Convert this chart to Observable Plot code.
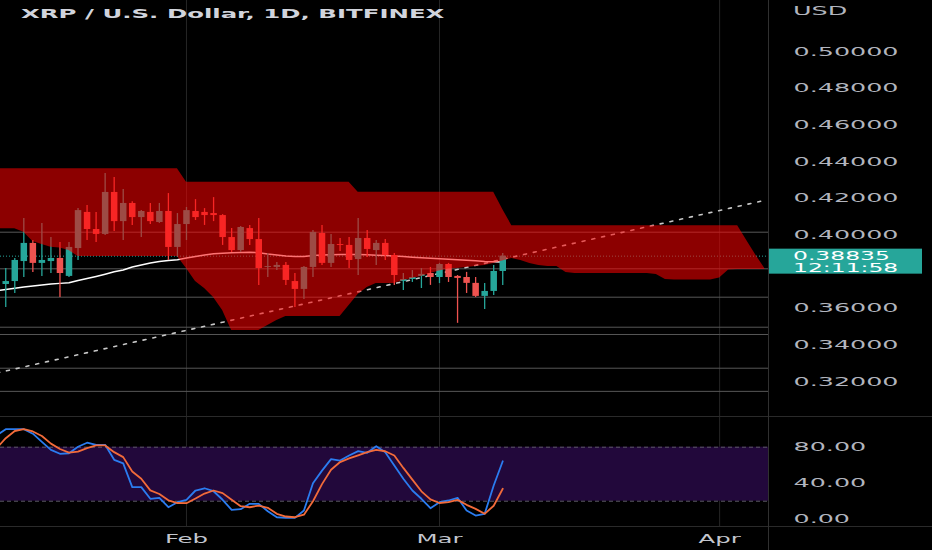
<!DOCTYPE html>
<html><head><meta charset="utf-8">
<script src="https://cdn.jsdelivr.net/npm/d3@7"></script>
<script src="https://cdn.jsdelivr.net/npm/@observablehq/plot@0.6"></script>
<style>
html,body{margin:0;padding:0;background:#000;}
#wrap{position:relative;width:932px;height:550px;overflow:hidden;background:#000;}
#wrap svg{display:block;background:#000;}
.hline{position:absolute;left:0;width:932px;height:1px;background:#2a2a2a;}
.vline{position:absolute;top:0;left:768px;width:1px;height:550px;background:#303030;}
</style></head><body>
<div id="wrap"><div id="top"></div><div id="bottom"></div>
<div class="hline" style="top:416px"></div><div class="hline" style="top:526px"></div><div class="vline"></div></div>
<script>
// ---------- data ----------
const title = "XRP / U.S. Dollar, 1D, BITFINEX";
const currency = "USD";
const countdown = "12:11:58";
const candleStart = "2023-01-12", candleEnd = "2023-03-09"; // daily candles Jan 12 .. Mar 8
const open  = [0.3729,0.3745,0.3854,0.3953,0.3844,0.3854,0.3871,0.3773,0.3925,0.4122,0.4029,0.4002,0.4231,0.4072,0.4171,0.4094,0.4122,0.4067,0.4127,0.3931,0.4056,0.4127,0.4122,0.4116,0.4105,0.3985,0.3914,0.4034,0.3974,0.3822,0.3822,0.3833,0.3745,0.3702,0.3822,0.4007,0.3844,0.3947,0.3942,0.3865,0.3980,0.3914,0.3953,0.3887,0.3745,0.3756,0.3773,0.3789,0.3767,0.3838,0.3773,0.3767,0.3735,0.3664,0.3691,0.3800];
const high  = [0.3816,0.3871,0.4089,0.3969,0.4062,0.3985,0.3958,0.3958,0.4143,0.4160,0.4122,0.4334,0.4312,0.4247,0.4180,0.4132,0.4171,0.4171,0.4225,0.4116,0.4149,0.4192,0.4143,0.4203,0.4110,0.4034,0.4045,0.4051,0.4089,0.3898,0.3849,0.3849,0.3789,0.3827,0.4023,0.4051,0.4002,0.3980,0.3985,0.4089,0.4023,0.3969,0.3974,0.3898,0.3789,0.3805,0.3816,0.3822,0.3844,0.3844,0.3778,0.3795,0.3767,0.3735,0.3833,0.3898];
const low   = [0.3604,0.3680,0.3767,0.3795,0.3773,0.3789,0.3658,0.3767,0.3860,0.3969,0.3958,0.3996,0.4018,0.3969,0.4051,0.3985,0.4056,0.4062,0.3860,0.3876,0.3969,0.4078,0.4051,0.4072,0.3942,0.3904,0.3904,0.3942,0.3724,0.3767,0.3805,0.3724,0.3604,0.3647,0.3767,0.3833,0.3822,0.3909,0.3816,0.3778,0.3876,0.3833,0.3860,0.3724,0.3696,0.3740,0.3707,0.3724,0.3734,0.3740,0.3517,0.3680,0.3658,0.3593,0.3669,0.3724];
const close = [0.3745,0.3860,0.3953,0.3844,0.3860,0.3871,0.3789,0.3931,0.4132,0.4029,0.4002,0.4231,0.4072,0.4171,0.4094,0.4127,0.4072,0.4127,0.3931,0.4056,0.4132,0.4094,0.4105,0.4105,0.3985,0.3914,0.4040,0.3974,0.3816,0.3827,0.3833,0.3751,0.3702,0.3822,0.4013,0.3844,0.3947,0.3942,0.3860,0.3980,0.3920,0.3953,0.3887,0.3778,0.3756,0.3767,0.3784,0.3767,0.3838,0.3767,0.3762,0.3735,0.3664,0.3691,0.3800,0.38835];
// indicator series, daily Jan 11 .. Mar 8
const seriesStart = "2023-01-11";
const movingAvg = [0.3694,0.3702,0.3708,0.3715,0.3721,0.3726,0.3732,0.3735,0.3738,0.3751,0.3762,0.3773,0.3785,0.3798,0.3808,0.3824,0.3835,0.3846,0.3854,0.3860,0.3864,0.3873,0.3882,0.3890,0.3896,0.3899,0.3902,0.3903,0.3905,0.3902,0.3895,0.3890,0.3884,0.3882,0.3882,0.3887,0.3890,0.3891,0.3893,0.3893,0.3893,0.3891,0.3889,0.3887,0.3884,0.3882,0.3878,0.3875,0.3872,0.3869,0.3866,0.3864,0.3861,0.3859,0.3855,0.3853,0.3851];
const stochK = [93,100,100,100,95,86,77,72.7,73.3,80.5,85,82.7,82.7,66,62,35.6,35.6,22.7,23.8,13.3,18.9,21.6,31.9,34.4,31.1,21.6,10.4,11.1,17.1,17.1,8.9,2.2,1.5,1.5,9.7,40,54,66.7,65.2,70.8,75.6,73.8,81.1,74.4,59.7,44.9,31.9,22.7,12.2,18.9,20.8,23.8,9.7,4.1,6,37.4,64.4];
const stochD = [79,90,98,100,97.5,92.5,84,78,74,75,79,82,82,74.5,69,53,45,32,28,21,18,17.8,23,28.5,31.9,29,21.6,14.5,13.3,15.2,12.7,6,3,2.2,5,20,39,55,63.5,67.5,71,74.5,77,75.5,70.8,57,44,31,22,18,19,21.5,16,11.5,6,15,33.8];
// cloud, daily Jan 11 .. Apr 6
const cloudStart = "2023-01-11", cloudEnd = "2023-04-07";
const cloudTop = [0.4360,0.4360,0.4360,0.4360,0.4360,0.4360,0.4360,0.4360,0.4360,0.4360,0.4360,0.4360,0.4360,0.4360,0.4360,0.4360,0.4360,0.4360,0.4360,0.4360,0.4360,
  0.4287,0.4287,0.4287,0.4287,0.4287,0.4287,0.4287,0.4287,0.4287,0.4287,0.4287,0.4287,0.4287,0.4287,0.4287,0.4287,0.4287,0.4287,0.4287,
  0.4232,0.4232,0.4232,0.4232,0.4232,0.4232,0.4232,0.4232,0.4232,0.4232,0.4232,0.4232,0.4232,0.4232,0.4232,0.4232,
  0.4138,
  0.4050,0.4050,0.4050,0.4050,0.4050,0.4050,0.4050,0.4050,0.4050,0.4050,0.4050,0.4050,0.4050,0.4050,0.4050,0.4050,0.4050,0.4050,0.4050,0.4050,0.4050,0.4050,0.4050,0.4050,0.4050,0.4050,
  0.3969,0.3890,0.3816];
const cloudBottom = [0.4033,0.4033,0.4033,0.4014,0.3963,0.3947,0.3932,0.3928,0.3914,0.3882,
  0.3882,0.3882,0.3882,0.3882,0.3882,0.3882,0.3882,0.3882,0.3882,0.3882,0.3882,
  0.3816,0.3745,0.3707,0.3658,0.3587,0.3478,0.3478,0.3478,0.3478,0.3505,0.3532,
  0.3554,0.3554,0.3554,0.3554,0.3554,0.3554,0.3554,
  0.3614,0.3674,0.3712,0.3734,0.3734,0.3734,0.3751,0.3762,0.3772,0.3789,0.3803,0.3813,0.3816,0.3822,0.3827,0.3833,0.3843,0.3857,0.3871,0.3860,0.3843,0.3833,0.3827,0.3827,0.3794,
  0.3789,0.3789,0.3789,0.3789,0.3789,0.3789,0.3789,0.3789,0.3789,
  0.3783,0.3756,
  0.3753,0.3753,0.3753,0.3753,0.3753,
  0.3764,0.3808,
  0.3811,0.3811,0.3811,0.3811];
const levelLines = [0.40142,0.38145,0.36596,0.34959,0.34561,0.32722,0.31459];
const trendDates = ["2023-01-11","2023-04-06"];
const trendValues = [0.3246,0.4188];
const priceTicks = [0.32,0.34,0.36,0.38,0.40,0.42,0.44,0.46,0.48,0.50];
const oscTicks = [0,40,80];
const bandLow = 20, bandHigh = 80;
const monthTicks = ["2023-02-01","2023-03-01","2023-04-01"];

// ---------- tables ----------
const candleDates = d3.utcDay.range(new Date(candleStart), new Date(candleEnd));
const candles = candleDates.map((date,i)=>({date,open:open[i],high:high[i],low:low[i],close:close[i]}));
const seriesDates = d3.utcDay.range(new Date(seriesStart), new Date(candleEnd));
const series = seriesDates.map((date,i)=>({date,ma:movingAvg[i],k:stochK[i],d:stochD[i]}));
const cloudDates = d3.utcDay.range(new Date(cloudStart), new Date(cloudEnd));
const cloud = cloudDates.map((date,i)=>({date,top:cloudTop[i],bottom:cloudBottom[i]}));
const trend = trendDates.map((d,i)=>({date:new Date(d),value:trendValues[i]}));
const months = monthTicks.map(d=>new Date(d));
const lastClose = close[close.length-1];

const DAY = 864e5, FEB1 = Date.UTC(2023,1,1);
const xDomain = [new Date(FEB1 - 20.58*DAY), new Date(FEB1 + 64.41*DAY)];
const band = [{x1:xDomain[0],x2:xDomain[1],y1:bandLow,y2:bandHigh}];
const UP = "#26a69a", DOWN = "#ef5350", AXIS = "#b2b5be";
const col = d => d.close >= d.open ? UP : DOWN;
const FONT = "DejaVu Sans";

// the price tag hides the axis label it sits on
const shownPriceTicks = priceTicks.filter(t => Math.abs(t - lastClose) > 0.009);

const topChart = Plot.plot({
  width:932, height:417, marginTop:0, marginBottom:0, marginLeft:0, marginRight:164,
  style:{background:"#000", fontFamily:FONT, fontSize:"13px", color:AXIS},
  x:{type:"utc", domain:xDomain, axis:null},
  y:{domain:[0.30033,0.52782], axis:null},
  marks:[
    Plot.ruleX(months, {stroke:"#262626"}),
    Plot.ruleY(levelLines, {stroke:"#575757", strokeWidth:1}),
    Plot.ruleY([lastClose], {stroke:UP, strokeWidth:1, strokeDasharray:"1,2"}),
    Plot.line(trend, {x:"date", y:"value", stroke:"#c8c8c8", strokeWidth:1.6, strokeDasharray:"3,7"}),
    Plot.line(series, {x:"date", y:"ma", stroke:"#ffffff", strokeWidth:1.5}),
    Plot.ruleX(candles, {x:"date", y1:"low", y2:"high", stroke:col, strokeWidth:1.3}),
    Plot.ruleX(candles, {x:"date", y1:"open", y2:"close", stroke:col, strokeWidth:6.5}),
    Plot.areaY(cloud, {x:"date", y1:"bottom", y2:"top", fill:"#ff0000", fillOpacity:0.55}),
    Plot.axisY(shownPriceTicks, {anchor:"right", tickSize:0, tickPadding:25, tickFormat:d=>d.toFixed(5), fill:AXIS})
  ]
});
document.getElementById("top").appendChild(topChart);

const bottomChart = Plot.plot({
  width:932, height:133, marginTop:0, marginBottom:23, marginLeft:0, marginRight:164,
  style:{background:"#000", fontFamily:FONT, fontSize:"13px", color:AXIS},
  x:{type:"utc", domain:xDomain, axis:null},
  y:{domain:[-9.2,113], axis:null},
  marks:[
    Plot.ruleX(months, {stroke:"#262626", y1:-9.2, y2:113}),
    Plot.rect(band, {x1:"x1", x2:"x2", y1:"y1", y2:"y2", fill:"#22083b"}),
    Plot.ruleY([bandLow, bandHigh], {stroke:"#5d5a66", strokeDasharray:"4,3"}),
    Plot.line(series, {x:"date", y:"k", stroke:"#2b7cf0", strokeWidth:1.8}),
    Plot.line(series, {x:"date", y:"d", stroke:"#f26b3a", strokeWidth:1.8}),
    Plot.axisX(months, {tickSize:0, tickPadding:7, tickFormat:d3.utcFormat("%b"), fill:"#c3c6ce", fontSize:12.5}),
    Plot.axisY(oscTicks, {anchor:"right", tickSize:0, tickPadding:25, tickFormat:d=>d.toFixed(2), fill:AXIS})
  ]
});
document.getElementById("bottom").appendChild(bottomChart);

// ---------- extra labels using the chart's scales ----------
const ts = d3.select(topChart);
const yLast = topChart.scale("y").apply(lastClose);
const addText = (x,y,txt,fill,size,weight) => ts.append("text").attr("x",x).attr("y",y)
  .attr("text-anchor","start").attr("fill",fill).attr("font-size",size)
  .attr("font-weight",weight||"normal").attr("font-family",FONT).text(txt);
ts.append("rect").attr("x",768).attr("y",yLast-7).attr("width",154).attr("height",25).attr("fill",UP);
addText(793, yLast+4.2, lastClose.toFixed(5), "#fff", 12);
addText(793, yLast+16, countdown, "#fff", 12);
addText(793, 15, currency, AXIS, 13);
addText(21, 18.3, title, "#d1d4dc", 12.5, "bold");

// horizontal stretch of the lettering as in the reference
const probe = ts.append("text").attr("font-size",13).attr("font-family",FONT).text("0.50000");
const K = 105 / probe.node().getComputedTextLength();
probe.remove();
for (const svg of [topChart, bottomChart]) {
  d3.select(svg).selectAll("text").each(function(){
    const w = this.getComputedTextLength();
    if (w > 0) { this.setAttribute("textLength", (w*K).toFixed(1)); this.setAttribute("lengthAdjust","spacingAndGlyphs"); }
  });
}
</script></body></html>
